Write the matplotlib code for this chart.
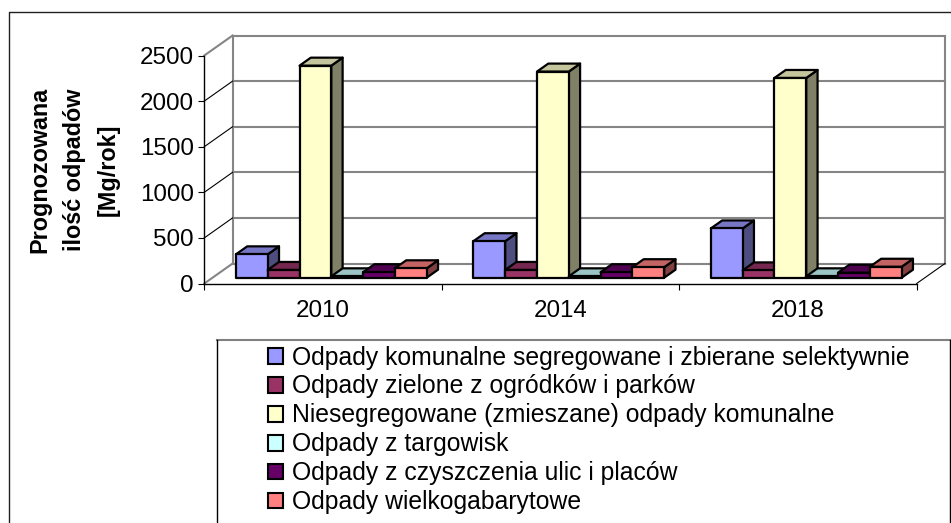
import matplotlib
matplotlib.use("Agg")
import matplotlib.pyplot as plt
from matplotlib.patches import Patch, Polygon
import numpy as np

plt.rcParams["font.family"] = ["Liberation Sans", "DejaVu Sans"]

W, H = 951, 523
years = ["2010", "2014", "2018"]
series = ["Odpady komunalne segregowane i zbierane selektywnie",
          "Odpady zielone z ogródków i parków",
          "Niesegregowane (zmieszane) odpady komunalne",
          "Odpady z targowisk",
          "Odpady z czyszczenia ulic i placów",
          "Odpady wielkogabarytowe"]
segregowane = [256, 400, 540]
zielone = [85, 85, 80]
niesegregowane = [2325, 2260, 2190]
targowiska = [15, 15, 15]
czyszczenie = [60, 60, 55]
wielkogabarytowe = [103, 115, 120]
values = [segregowane, zielone, niesegregowane, targowiska, czyszczenie, wielkogabarytowe]
colors = ["#9999FF", "#993366", "#FFFFCC", "#CCFFFF", "#660066", "#FF8080"]
yticks = [0, 500, 1000, 1500, 2000, 2500]


def shade(color, k):
    rgb = np.array(matplotlib.colors.to_rgb(color))
    return tuple(rgb * k)


fig = plt.figure(figsize=(W / 100, H / 100), dpi=100)
# front plane of the 3d box
ax = fig.add_axes([204.3 / W, 1 - 283.5 / H, 712.4 / W, 228 / H])
ax.set_xlim(0, 3)
ax.set_ylim(0, 2500)
ax.patch.set_visible(False)
for s in ["top", "right"]:
    ax.spines[s].set_visible(False)
ax.spines["left"].set_linewidth(1.0)
ax.spines["bottom"].set_linewidth(1.0)

# depth of the box in data units
DX = 28.3 / (712.4 / 3)
DY = 20.0 / 228 * 2500


def p(x, v, d):
    return (x + d * DX, v + d * DY)


# walls and gridlines
grid = "#858585"
ax.plot(*zip(p(0, 0, 0), p(0, 0, 1)), color=grid, lw=1.5, clip_on=False, zorder=1)
ax.plot(*zip(p(0, 0, 1), p(0, 2500, 1)), color=grid, lw=1.5, clip_on=False, zorder=1)
ax.plot(*zip(p(3, 0, 1), p(3, 2500, 1)), color=grid, lw=1.5, clip_on=False, zorder=1)
for v in yticks:
    ax.plot(*zip(p(0, v, 1), p(3, v, 1)), color=grid, lw=1.5, clip_on=False, zorder=1)
    if v == 2500:
        ax.plot(*zip(p(0, v, 0), p(0, v, 1)), color=grid, lw=1.5, clip_on=False, zorder=1)
    elif v > 0:
        ax.plot(*zip(p(0, v, 0), p(0, v, 1)), color="black", lw=0.8, clip_on=False, zorder=1)
ax.plot(*zip(p(3, 0, 0), p(3, 0, 1)), color="black", lw=0.8, clip_on=False, zorder=1)

# bars
bar_w = 31.8 / (712.4 / 3)
margin = 23.4 / (712.4 / 3)
d0, d1 = 0.29, 0.69
z = 3
for i in range(len(years)):
    for j, vals in enumerate(values):
        x0 = i + margin + j * bar_w
        x1 = x0 + bar_w
        v = vals[i]
        front = [p(x0, 0, d0), p(x1, 0, d0), p(x1, v, d0), p(x0, v, d0)]
        top = [p(x0, v, d0), p(x1, v, d0), p(x1, v, d1), p(x0, v, d1)]
        side = [p(x1, 0, d0), p(x1, 0, d1), p(x1, v, d1), p(x1, v, d0)]
        for pts, k in [(side, 0.5), (top, 0.77), (front, 1.0)]:
            ax.add_patch(Polygon(pts, closed=True, facecolor=shade(colors[j], k), edgecolor="black",
                                 lw=1.6, joinstyle="round", clip_on=False, zorder=z))
        z += 1

ax.set_yticks(yticks)
ax.set_xticks([0, 1, 2, 3])
ax.set_xticklabels([])
ax.set_xticks([0.5, 1.5, 2.5], years, minor=True)
ax.tick_params(axis="x", which="minor", length=0, labelsize=17.4, pad=12)
ax.tick_params(axis="x", which="major", length=4, width=0.8)
ax.tick_params(axis="y", labelsize=17.4, length=4, width=0.8, pad=3.5)

fig.text(74 / W, 1 - 170 / H, "Prognozowana\nilość odpadów\n[Mg/rok]", rotation=90, ha="center", va="center",
         fontsize=16.8, fontweight="bold", linespacing=1.62, multialignment="center")

# outer frame, cut by the picture edge
fig.add_artist(plt.Line2D([8.5 / W, 8.5 / W, 1], [0, 1 - 12 / H, 1 - 12 / H], color="#202020", lw=1.0))

# legend box also runs off the bottom
fig.add_artist(plt.Line2D([216.5 / W, 950 / W], [1 - 339.5 / H, 1 - 339.5 / H], color="#808080", lw=1.5))
fig.add_artist(plt.Line2D([216.5 / W, 216.5 / W], [1 - 339.5 / H, 0], color="black", lw=1.0))
fig.add_artist(plt.Line2D([950 / W, 950 / W], [1 - 339.5 / H, 0], color="black", lw=1.0))

handles = [Patch(facecolor=c, edgecolor="black", lw=1.5) for c in colors]
leg = fig.legend(handles, series, loc="upper left", bbox_to_anchor=(268 / W, 1 - 345.5 / H), frameon=False,
                 fontsize=17.8, handlelength=0.61, handleheight=0.61, handletextpad=0.38, labelspacing=0.2,
                 borderaxespad=0, borderpad=0, ncol=1)

fig.savefig("out.png", dpi=100)
